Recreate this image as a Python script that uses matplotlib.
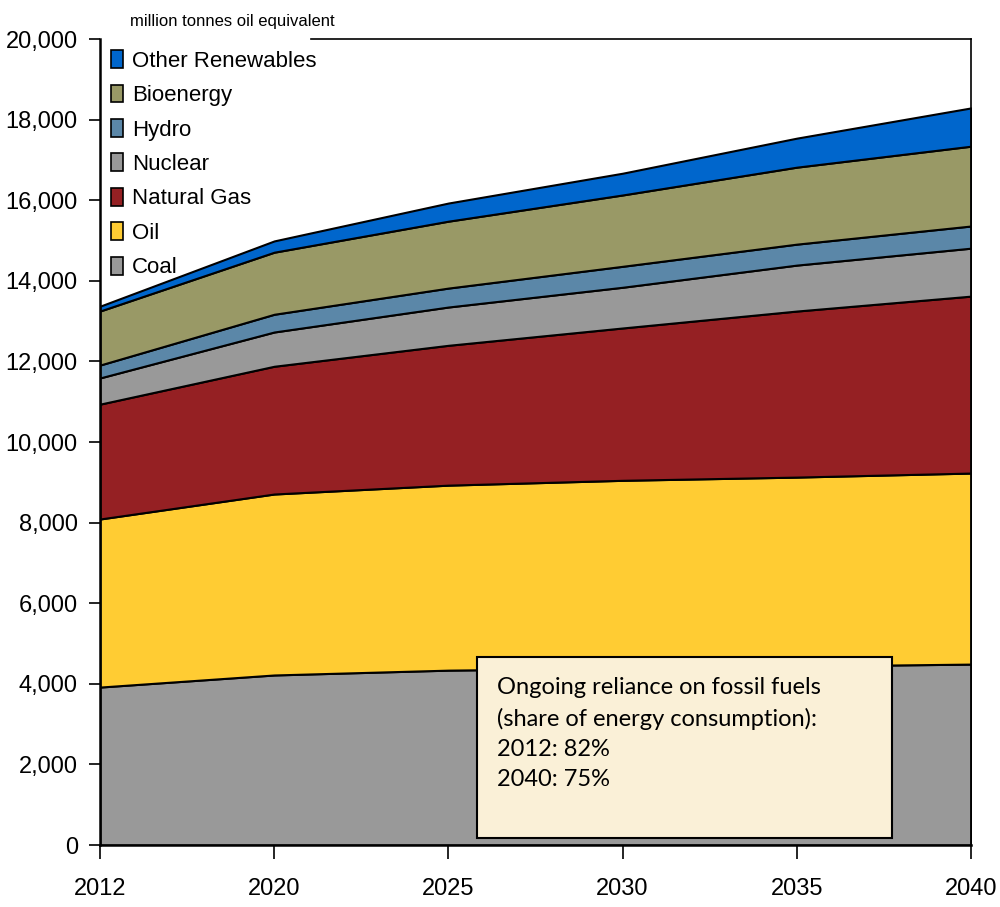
import matplotlib
import matplotlib.pyplot as plt
from matplotlib.patches import Patch, Rectangle
from matplotlib.ticker import FuncFormatter

matplotlib.rcParams['font.family'] = ['Liberation Sans', 'DejaVu Sans']

years = ['2012', '2020', '2025', '2030', '2035', '2040']
coal = [3920, 4220, 4340, 4390, 4440, 4490]
oil = [4170, 4490, 4590, 4660, 4690, 4740]
gas = [2850, 3170, 3470, 3780, 4120, 4390]
nuclear = [650, 850, 950, 1010, 1140, 1190]
hydro = [320, 440, 470, 520, 520, 550]
bio = [1340, 1540, 1660, 1770, 1910, 1980]
other = [120, 280, 450, 540, 720, 950]

labels = ['Coal', 'Oil', 'Natural Gas', 'Nuclear', 'Hydro', 'Bioenergy', 'Other Renewables']
colors = ['#999999', '#FFCC33', '#952023', '#999999', '#5B87A8', '#999966', '#0066CC']
series = [coal, oil, gas, nuclear, hydro, bio, other]

fig = plt.figure(figsize=(10, 9.07), dpi=100)
ax = fig.add_axes([0.1, 0.0683, 0.871, 0.8887])

x = list(range(len(years)))
ax.stackplot(x, *series, colors=colors, edgecolor='black', linewidth=1.5)

ax.set_xlim(0, len(years) - 1)
ax.set_ylim(0, 20000)
ax.set_xticks(x)
ax.set_xticklabels(years)
ax.set_yticks(range(0, 20001, 2000))
ax.yaxis.set_major_formatter(FuncFormatter(lambda v, p: f'{int(v):,}'))
ax.tick_params(axis='both', labelsize=17, length=8, width=1.2, color='black')
ax.tick_params(axis='y', pad=8)
ax.tick_params(axis='x', length=10, pad=14)
for s in ['left', 'bottom']:
    ax.spines[s].set_linewidth(1.8)
for s in ['top', 'right']:
    ax.spines[s].set_linewidth(1.2)
ax.spines['top'].set_bounds(1.21, 5)

ax.text(0.034, 1.012, 'million tonnes oil equivalent', transform=ax.transAxes, fontsize=12, va='bottom')

handles = [Patch(facecolor=c, edgecolor='black', linewidth=1.2) for c in colors]
ax.legend(handles[::-1], labels[::-1], loc='upper left', bbox_to_anchor=(0.0, 1.0),
          fontsize=16, frameon=False, handlelength=0.55, handleheight=0.85,
          handletextpad=0.4, labelspacing=0.58, borderaxespad=0.2, borderpad=0.3)

ax.add_patch(Rectangle((0.433, 0.0087), 0.476, 0.2243, transform=ax.transAxes,
                       facecolor='#FAF0D7', edgecolor='black', linewidth=1.5, zorder=5))
ax.text(0.456, 0.209, 'Ongoing reliance on fossil fuels\n(share of energy consumption):\n2012: 82%\n2040: 75%',
        transform=ax.transAxes, fontsize=17, family=['Lato', 'DejaVu Sans'], linespacing=1.55,
        va='top', zorder=6)

plt.savefig('out.png')
